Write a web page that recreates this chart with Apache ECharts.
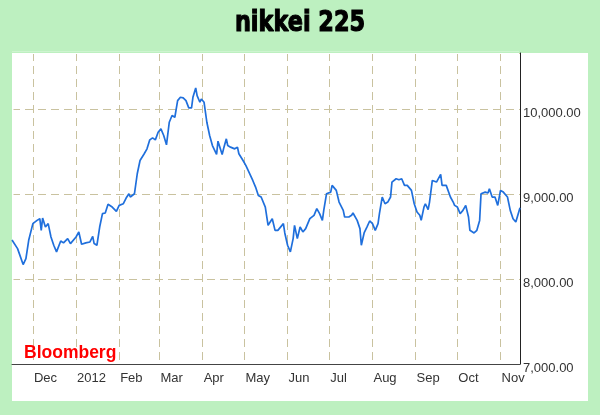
<!DOCTYPE html>
<html>
<head>
<meta charset="utf-8">
<script src="https://cdn.jsdelivr.net/npm/echarts@6/dist/echarts.min.js"></script>
<style>html,body{margin:0;padding:0;background:#bdf0c0;}#c{width:600px;height:415px;}</style>
</head>
<body>
<div id="c"></div>
<script>
const titleText = 'nikkei 225';
const sourceText = 'Bloomberg';
const monthNames = ['Jan','Feb','Mar','Apr','May','Jun','Jul','Aug','Sep','Oct','Nov','Dec'];
const xMin = '2011-11-16';
const xMax = '2012-11-15';
const yMin = 7000;
const yMax = 10660;
const yStep = 1000;
const dates = [
'2011-11-16','2011-11-20','2011-11-24','2011-11-26','2011-11-28','2011-12-01','2011-12-04','2011-12-06','2011-12-07','2011-12-08',
'2011-12-10','2011-12-12','2011-12-14','2011-12-16','2011-12-18','2011-12-21','2011-12-23','2011-12-26','2011-12-28','2012-01-01',
'2012-01-03','2012-01-05','2012-01-08','2012-01-11','2012-01-13','2012-01-14','2012-01-16','2012-01-18','2012-01-20','2012-01-22',
'2012-01-24','2012-01-27','2012-01-30','2012-02-01','2012-02-04','2012-02-06','2012-02-08','2012-02-09','2012-02-12','2012-02-14',
'2012-02-16','2012-02-19','2012-02-21','2012-02-23','2012-02-25','2012-02-27','2012-02-29','2012-03-02','2012-03-04','2012-03-06',
'2012-03-08','2012-03-10','2012-03-12','2012-03-14','2012-03-16','2012-03-18','2012-03-20','2012-03-22','2012-03-24','2012-03-25',
'2012-03-27','2012-03-28','2012-03-30','2012-03-31','2012-04-02','2012-04-04','2012-04-06','2012-04-08','2012-04-11','2012-04-12',
'2012-04-15','2012-04-16','2012-04-18','2012-04-19','2012-04-21','2012-04-24','2012-04-26','2012-04-27','2012-04-30','2012-05-02',
'2012-05-05','2012-05-07','2012-05-09','2012-05-11','2012-05-13','2012-05-16','2012-05-18','2012-05-19','2012-05-21','2012-05-23',
'2012-05-25','2012-05-29','2012-05-30','2012-06-01','2012-06-03','2012-06-05','2012-06-06','2012-06-08','2012-06-10','2012-06-12',
'2012-06-14','2012-06-17','2012-06-20','2012-06-22','2012-06-24','2012-06-26','2012-06-27','2012-06-29','2012-07-02','2012-07-03',
'2012-07-06','2012-07-08','2012-07-11','2012-07-12','2012-07-15','2012-07-17','2012-07-18','2012-07-21','2012-07-23','2012-07-24',
'2012-07-26','2012-07-28','2012-07-30','2012-08-01','2012-08-03','2012-08-05','2012-08-06','2012-08-08','2012-08-10','2012-08-12',
'2012-08-14','2012-08-15','2012-08-18','2012-08-20','2012-08-22','2012-08-24','2012-08-26','2012-08-27','2012-08-29','2012-08-31',
'2012-09-02','2012-09-04','2012-09-05','2012-09-07','2012-09-08','2012-09-10','2012-09-11','2012-09-13','2012-09-16','2012-09-17',
'2012-09-19','2012-09-20','2012-09-23','2012-09-24','2012-09-26','2012-09-28','2012-09-29','2012-10-01','2012-10-03','2012-10-05',
'2012-10-07','2012-10-09','2012-10-10','2012-10-13','2012-10-15','2012-10-17','2012-10-18','2012-10-21','2012-10-23','2012-10-24',
'2012-10-26','2012-10-28','2012-10-30','2012-11-01','2012-11-03','2012-11-04','2012-11-06','2012-11-08','2012-11-10','2012-11-12',
'2012-11-13','2012-11-15'
];
const closes = [
8460,8358,8170,8240,8456,8652,8690,8710,8573,8718,
8612,8652,8495,8397,8319,8448,8425,8476,8417,8495,
8554,8409,8425,8436,8503,8417,8397,8612,8769,8777,
8879,8847,8796,8867,8886,8953,9004,8965,9004,9239,
9395,9474,9532,9638,9661,9638,9728,9767,9689,9579,
9845,9924,9904,10100,10139,10131,10100,10014,10014,10139,
10249,10159,10080,10119,10080,9845,9689,9571,9466,9622,
9466,9532,9650,9571,9552,9532,9552,9474,9395,9337,
9231,9160,9082,8984,8965,8847,8632,8632,8710,8573,
8573,8652,8542,8397,8319,8476,8632,8476,8612,8554,
8593,8710,8750,8828,8769,8690,8808,9004,9023,9102,
9043,8906,8808,8730,8730,8750,8777,8690,8593,8397,
8542,8612,8683,8652,8573,8652,8769,8965,8886,8906,
8965,9141,9180,9168,9180,9102,9102,9082,9043,8886,
8789,8750,8690,8847,8886,8816,8906,9160,9141,9141,
9231,9102,9102,9082,8965,8906,8867,8847,8769,8808,
8867,8730,8573,8542,8573,8690,9004,9023,9012,9063,
8965,8965,8867,9043,9023,9004,8965,8808,8710,8671,
8690,8840
];

function fmtNum(v) {
  const s = Math.round(v).toString().replace(/\B(?=(\d{3})+(?!\d))/g, ',');
  return s + '.00';
}

const chart = echarts.init(document.getElementById('c'), null, {renderer: 'canvas'});
chart.setOption({
  animation: false,
  backgroundColor: '#bdf0c0',
  graphic: [
    {type: 'rect', z: -10, shape: {x: 12, y: 53, width: 576, height: 348}, style: {fill: '#ffffff'}},
    {type: 'rect', z: 1, shape: {x: 12, y: 53, width: 1.5, height: 310}, style: {fill: '#ffffff'}},
    {type: 'rect', z: 1, shape: {x: 12, y: 51.5, width: 507, height: 2.5}, style: {fill: '#ffffff'}},
    {type: 'rect', z: 1, shape: {x: 12, y: 51.5, width: 507, height: 1.5}, style: {fill: '#bdf0c0'}},
    {type: 'text', z: 100, x: 300, y: 24, scaleX: 0.8,
      style: {text: titleText, textAlign: 'center', textVerticalAlign: 'middle', fill: '#000',
        stroke: '#000', lineWidth: 1.2,
        font: 'bold 28px "DejaVu Sans"'}},
    {type: 'text', z: 100, left: 24, top: 344, style: {text: sourceText, fill: '#ff0000', font: 'bold 17.5px "Liberation Sans"'}}
  ],
  grid: {left: 12, right: 80, top: 53, bottom: 51, containLabel: false, outerBoundsMode: 'none'},
  xAxis: {
    type: 'time',
    min: xMin,
    max: xMax,
    splitNumber: 12,
    minInterval: 28 * 86400000,
    maxInterval: 31 * 86400000,
    axisLine: {show: true, lineStyle: {color: '#444', width: 1}},
    axisTick: {show: false},
    axisLabel: {
      show: true,
      align: 'left',
      margin: 8,
      padding: [0, 0, 0, 1],
      color: '#333',
      fontSize: 13,
      fontFamily: 'Liberation Sans',
      showMinLabel: false,
      showMaxLabel: false,
      formatter: function (value) {
        const d = new Date(value);
        if (d.getDate() !== 1) return '';
        return d.getMonth() === 0 ? String(d.getFullYear()) : monthNames[d.getMonth()];
      }
    },
    splitLine: {show: true, lineStyle: {color: '#c9c29f', type: [8, 5], width: 1}}
  },
  yAxis: {
    type: 'value',
    position: 'right',
    min: yMin,
    max: yMax,
    interval: yStep,
    axisLine: {show: true, lineStyle: {color: '#222', width: 1}},
    axisTick: {show: false},
    axisLabel: {
      margin: 3,
      color: '#333',
      fontSize: 13,
      fontFamily: 'Liberation Sans',
      showMaxLabel: false,
      verticalAlign: 'top',
      lineHeight: 8,
      formatter: function (v) { return (v % yStep === 0) ? fmtNum(v) : ''; }
    },
    splitLine: {show: true, lineStyle: {color: '#c9c29f', type: [8, 5], width: 1}}
  },
  series: [{
    type: 'line',
    z: 5,
    data: dates.map((d, i) => [d, closes[i]]),
    showSymbol: false,
    symbol: 'none',
    lineStyle: {color: '#1f6fdc', width: 1.7},
    clip: true
  }]
});
</script>
</body>
</html>
